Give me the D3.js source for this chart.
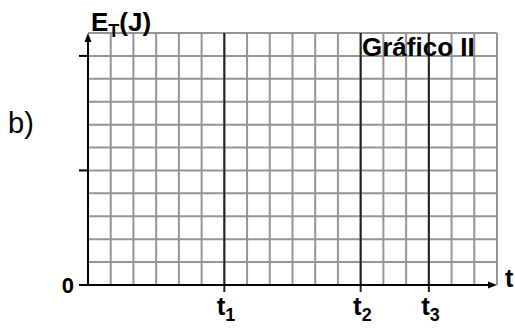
<!DOCTYPE html>
<html>
<head>
<meta charset="utf-8">
<script src="https://cdn.jsdelivr.net/npm/d3@7"></script>
<style>
  body { margin: 0; background: #fff; }
  text { font-family: Arial, "Liberation Sans", sans-serif; }
</style>
</head>
<body>
<svg id="chart" width="515" height="328"></svg>
<script>
// grid size (cells)
var cols = 18
var rows = 11
// marked times on the t axis
var timeLabels = ["1", "2", "3"]
var timeValues = [6, 12, 15]
// ticks on the energy axis
var energyTicks = [5, 10]
var zeroLabel = "0"

var svg = d3.select("#chart")

var x = d3.scaleLinear().domain([0, cols]).range([88, 497])
var y = d3.scaleLinear().domain([0, rows]).range([285, 33])

// gray grid
var grid = svg.append("g")
grid.selectAll(".v").data(d3.range(1, cols + 1)).enter().append("line")
  .attr("x1", d => x(d)).attr("x2", d => x(d))
  .attr("y1", y(0)).attr("y2", y(rows))
  .attr("stroke", "#959595").attr("stroke-width", 2)
grid.selectAll(".h").data(d3.range(1, rows + 1)).enter().append("line")
  .attr("x1", x(0)).attr("x2", x(cols))
  .attr("y1", d => y(d)).attr("y2", d => y(d))
  .attr("stroke", "#959595").attr("stroke-width", 2)

// dark lines at t1, t2, t3
svg.selectAll(".tline").data(timeValues).enter().append("line")
  .attr("x1", d => x(d)).attr("x2", d => x(d))
  .attr("y1", y(0) + 7).attr("y2", y(rows))
  .attr("stroke", "#222").attr("stroke-width", 2)

// axes
svg.append("line").attr("x1", x(0)).attr("x2", x(cols) - 4)
  .attr("y1", y(0)).attr("y2", y(0)).attr("stroke", "#000").attr("stroke-width", 2)
svg.append("line").attr("x1", x(0)).attr("x2", x(0))
  .attr("y1", y(0)).attr("y2", y(rows) + 4).attr("stroke", "#000").attr("stroke-width", 2)
// arrowheads
svg.append("path")
  .attr("d", "M" + x(cols) + "," + y(0) + "L" + (x(cols) - 9) + "," + (y(0) - 3.5) + "L" + (x(cols) - 9) + "," + (y(0) + 3.5) + "Z")
  .attr("fill", "#000")
svg.append("path")
  .attr("d", "M" + x(0) + "," + y(rows) + "L" + (x(0) - 3.5) + "," + (y(rows) + 9) + "L" + (x(0) + 3.5) + "," + (y(rows) + 9) + "Z")
  .attr("fill", "#000")

// energy ticks
svg.selectAll(".ytick").data(energyTicks.concat([0])).enter().append("line")
  .attr("x1", x(0) - 9).attr("x2", x(0))
  .attr("y1", d => y(d)).attr("y2", d => y(d))
  .attr("stroke", "#000").attr("stroke-width", 2)

svg.append("text").attr("x", x(0) - 14).attr("y", y(0) + 8)
  .attr("text-anchor", "end").attr("font-size", 22).attr("font-weight", "bold")
  .text(zeroLabel)

// time labels
var tl = svg.selectAll(".tlab").data(timeValues).enter().append("text")
  .attr("x", d => x(d) + 1).attr("y", 315)
  .attr("text-anchor", "end").attr("font-size", 26).attr("font-weight", "bold")
  .text("t")
svg.selectAll(".tsub").data(timeValues).enter().append("text")
  .attr("x", d => x(d) + 1).attr("y", 321)
  .attr("font-size", 18).attr("font-weight", "bold")
  .text((d, i) => timeLabels[i])

// axis titles
svg.append("text").attr("x", 505).attr("y", 287)
  .attr("font-size", 25).attr("font-weight", "bold").text("t")

var et = svg.append("text").attr("x", 91).attr("y", 31)
  .attr("font-size", 26).attr("font-weight", "bold")
et.append("tspan").text("E")
et.append("tspan").attr("font-size", 18).attr("dy", 6).text("T")
et.append("tspan").attr("dy", -6).text("(J)")

svg.append("text").attr("x", 362).attr("y", 56)
  .attr("font-size", 26).attr("font-weight", "bold").text("Gráfico II")

svg.append("text").attr("x", 8).attr("y", 133)
  .attr("font-size", 29).text("b)")
</script>
</body>
</html>
